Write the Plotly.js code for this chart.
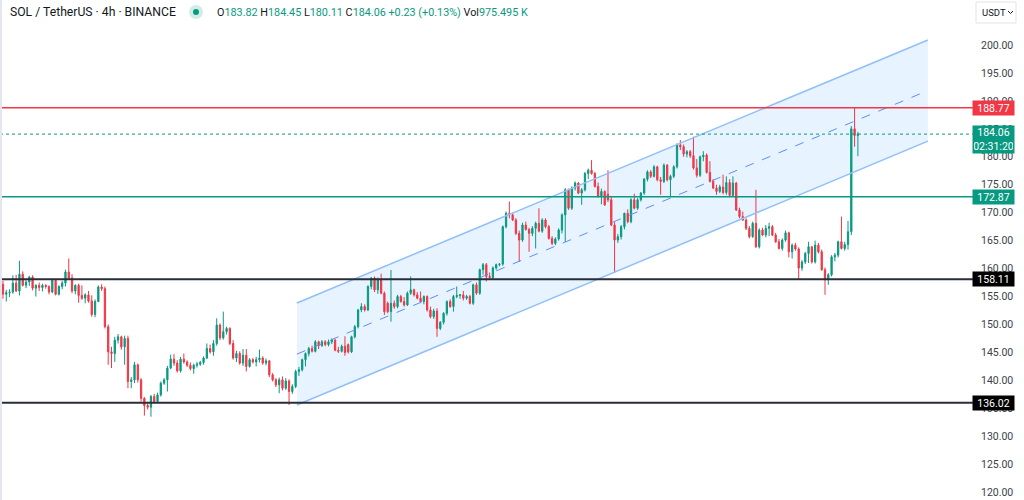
<!DOCTYPE html>
<html>
<head>
<meta charset="utf-8">
<script src="https://cdn.plot.ly/plotly-3.0.1.min.js"></script>
<style>html,body{margin:0;padding:0;background:#fff;}#chart{width:1024px;height:500px;}</style>
</head>
<body>
<div id="chart"></div>
<script>
// SOL / TetherUS 4h candles
const openP = [
157.2,155.4,155.7,155.8,157.4,156.0,159.0,157.0,157.6,158.5,
156.5,157.0,156.6,157.0,156.8,155.8,157.9,155.4,156.8,157.4,
159.4,158.3,156.0,157.0,155.2,154.7,155.3,154.2,151.8,154.1,
156.7,156.4,149.6,145.1,144.8,147.2,147.8,146.0,147.5,139.8,
140.1,142.8,140.1,136.8,135.5,135.2,137.1,136.2,137.4,139.5,
140.1,142.2,143.8,143.1,141.7,143.8,143.3,142.7,142.1,142.7,
142.9,143.2,144.0,145.7,145.1,
146.6,149.9,147.6,148.7,149.3,146.6,144.0,144.8,143.1,144.5,
142.5,143.7,143.3,143.7,144.0,143.1,143.5,141.0,140.1,139.2,
140.1,138.6,139.9,138.0,138.9,141.6,
141.9,143.7,144.8,145.7,145.2,146.9,146.2,146.9,146.4,146.9,
147.2,145.4,145.2,146.1,146.4,145.1,147.8,149.6,152.6,153.2,
152.6,156.8,158.3,156.2,158.0,155.6,153.8,152.3,153.8,153.2,
155.0,154.1,153.5,155.6,156.2,155.3,154.7,154.1,155.0,152.6,
151.4,152.4,149.3,150.4,152.0,154.1,153.2,155.0,155.2,155.3,
154.7,155.0,153.8,157.1,155.6,
159.8,160.7,158.6,158.4,160.1,160.7,160.8,167.5,169.9,169.6,
168.7,166.3,165.1,167.8,167.0,166.3,167.2,168.1,166.7,168.7,
167.5,165.4,164.5,165.3,166.9,169.6,174.1,170.8,174.4,175.3,
173.5,174.1,177.0,177.6,177.0,174.7,172.9,173.8,173.3,172.3,
167.8,165.1,165.7,167.5,169.9,168.4,172.3,170.8,172.3,
173.5,176.0,177.3,176.5,178.2,175.9,175.6,178.5,175.9,176.5,
178.2,182.1,181.8,180.5,180.9,180.2,178.0,176.7,180.0,180.3,
177.2,175.6,174.4,173.8,174.6,173.6,175.4,173.1,175.3,170.5,
169.3,168.7,167.2,165.7,168.1,163.9,166.9,166.0,167.2,167.5,
166.0,164.8,163.6,165.1,166.4,163.0,164.2,163.5,160.1,161.2,
162.7,163.9,161.2,164.2,163.0,159.8,158.0,158.9,162.1,162.4,
164.8,163.6,164.3,166.6,185.0,183.82
];
const highP = [
157.8,156.2,156.3,158.8,158.9,161.4,159.5,158.2,158.7,158.8,
157.2,157.5,157.3,157.2,157.0,158.2,158.0,157.0,157.8,159.8,
161.8,159.0,157.2,157.3,157.0,155.6,156.0,155.2,154.5,157.0,
157.2,156.8,150.0,146.0,147.8,148.3,148.0,148.0,148.0,140.6,
143.3,143.0,140.4,137.0,136.0,137.4,137.6,137.8,139.8,140.4,
142.6,144.6,144.7,143.6,144.2,144.8,143.6,143.2,143.0,143.3,
143.5,144.3,146.6,146.4,147.2,
151.1,150.2,152.3,149.6,149.5,147.2,145.3,145.2,145.6,145.6,
144.0,144.0,144.2,145.5,144.3,143.9,143.6,141.3,140.4,140.5,
140.7,140.4,140.2,139.3,141.9,142.4,
143.9,145.0,146.0,146.2,147.2,147.1,147.2,147.2,147.3,147.5,
147.4,146.0,146.4,147.9,146.6,148.0,149.9,152.8,153.8,153.6,
157.0,158.5,158.6,158.4,159.1,155.9,154.1,159.75,154.3,155.3,
155.3,154.9,155.9,158.6,156.4,155.8,155.9,155.2,155.2,153.2,
152.8,152.9,150.6,152.2,154.3,154.5,155.3,156.8,155.4,156.0,
155.3,155.3,157.3,157.5,160.0,
161.0,161.0,159.3,160.4,160.9,161.0,167.7,170.2,172.0,170.0,
169.0,166.8,168.2,168.4,167.3,167.6,168.4,170.8,169.0,169.0,
167.8,165.8,165.6,167.2,169.9,174.4,174.3,174.7,175.6,175.5,
174.4,177.3,177.9,179.4,177.3,175.4,174.3,174.0,177.6,172.8,
168.3,166.2,167.8,170.0,170.6,172.6,173.4,172.6,173.7,
176.2,177.6,177.6,178.5,178.4,176.4,178.8,178.7,176.8,178.5,
182.4,183.0,182.2,181.2,181.2,183.6,179.6,180.2,181.0,180.6,
179.2,176.0,175.0,175.0,176.8,176.5,176.0,176.5,175.5,170.9,
170.2,169.0,167.6,168.4,174.1,167.2,167.3,167.8,168.2,167.8,
166.4,165.3,165.4,166.8,166.6,164.5,164.6,163.8,161.5,163.0,
164.8,164.0,165.0,164.6,163.4,160.2,159.2,162.4,162.8,165.0,
169.3,164.8,168.5,185.5,188.77,184.45
];
const lowP = [
154.6,154.1,154.9,155.5,155.8,155.2,156.8,156.5,156.9,156.1,
155.0,156.0,155.9,156.4,155.4,155.6,155.2,155.2,156.3,156.8,
158.0,155.6,155.4,153.9,154.4,153.8,153.9,151.4,151.3,154.0,
156.0,149.3,142.8,142.2,143.3,146.6,145.5,142.8,138.6,138.6,
139.5,139.6,136.2,133.7,134.8,133.5,135.9,136.0,137.1,139.2,
138.0,142.0,142.6,141.4,141.4,143.0,142.4,141.8,141.2,142.3,
142.6,142.8,143.8,144.8,144.4,
146.2,147.2,147.3,148.2,146.3,143.7,143.3,142.8,142.6,141.6,
142.3,143.0,142.5,143.2,142.8,142.7,140.6,139.8,138.8,137.7,
138.2,138.3,135.6,137.6,138.6,140.8,
141.6,142.5,144.3,145.0,145.0,145.6,146.0,146.1,146.1,146.5,
145.2,144.9,145.0,144.4,144.8,144.9,147.5,149.3,152.2,152.3,
152.4,156.3,155.8,155.5,155.4,151.7,152.0,150.5,152.8,152.9,
153.9,153.2,153.3,155.3,155.0,154.5,153.8,153.6,152.3,151.1,
151.0,147.8,149.0,150.0,151.6,153.0,152.3,154.7,154.6,154.3,
154.4,153.6,153.5,155.3,155.3,
158.9,157.7,158.2,158.0,159.8,160.4,160.5,167.2,169.0,168.5,
166.0,161.2,164.8,166.8,163.0,165.8,163.6,166.5,166.4,167.2,
165.2,164.2,164.2,165.0,166.3,164.8,170.5,170.5,174.0,173.3,
171.4,173.8,176.0,176.8,174.5,172.7,171.5,171.2,171.9,167.6,
159.2,164.6,165.2,167.0,168.1,168.1,170.6,170.5,172.0,
173.2,175.6,176.2,176.3,175.6,173.2,175.3,175.6,172.9,176.2,
177.9,181.2,180.0,179.9,179.8,177.7,176.3,176.4,179.2,177.0,
175.4,174.2,173.2,173.5,173.3,173.2,172.8,172.9,170.3,169.0,
168.5,166.9,165.4,165.5,163.7,163.6,165.8,165.6,165.8,165.8,
164.6,163.4,163.2,164.8,162.0,161.8,163.2,158.0,159.6,160.8,
161.0,160.9,160.9,162.7,159.6,155.3,157.1,158.6,161.3,162.0,
163.4,163.2,163.4,166.0,181.8,180.11
];
const closeP = [
155.4,155.7,155.8,157.4,156.0,159.0,157.0,157.6,158.5,156.5,
157.0,156.6,157.0,156.8,155.8,157.9,155.4,156.8,157.4,159.4,
158.3,156.0,157.0,155.2,154.7,155.3,154.2,151.8,154.1,156.7,
156.4,149.6,145.1,144.8,147.2,147.8,146.0,147.5,139.8,140.1,
142.8,140.1,136.8,135.5,135.2,137.1,136.2,137.4,139.5,140.1,
142.2,143.8,143.1,141.7,143.8,143.3,142.7,142.1,142.7,142.9,
143.2,144.0,145.7,145.1,146.6,
149.9,147.6,148.7,149.3,146.6,144.0,144.8,143.1,144.5,142.5,
143.7,143.3,143.7,144.0,143.1,143.5,141.0,140.1,139.2,140.1,
138.6,139.9,138.0,138.9,141.6,141.9,
143.7,144.8,145.7,145.2,146.9,146.2,146.9,146.4,146.9,147.2,
145.4,145.2,146.1,145.0,145.1,147.8,149.6,152.6,153.2,152.6,
156.8,158.3,156.2,158.0,155.6,152.3,152.3,153.8,153.2,155.0,
154.1,153.5,155.6,156.2,155.3,154.7,154.1,155.0,152.6,151.4,
152.4,149.3,150.4,152.0,154.1,153.2,155.0,155.2,155.3,154.7,
155.0,153.8,157.1,155.6,159.8,
160.7,158.6,158.4,160.1,160.7,160.8,167.5,169.9,169.6,168.7,
166.3,165.1,167.8,167.0,166.3,167.2,168.1,166.7,168.7,167.5,
165.4,164.5,165.3,166.9,169.6,174.1,170.8,174.4,175.3,173.5,
174.1,177.0,177.6,177.0,174.7,172.9,173.8,171.4,172.3,167.8,
165.1,165.7,167.5,169.9,168.4,172.3,170.8,172.3,173.5,
176.0,177.3,176.5,178.2,175.9,175.6,178.5,175.9,176.5,178.2,
182.1,181.8,180.5,180.9,180.2,178.0,176.7,180.0,180.3,177.2,
175.6,174.4,173.8,174.6,173.6,175.4,173.1,175.3,170.5,169.3,
168.7,167.2,165.7,168.1,163.9,166.9,166.0,167.2,167.5,166.0,
164.8,163.6,165.1,166.4,163.0,164.2,163.5,160.1,161.2,162.7,
163.9,161.2,164.2,163.0,159.8,158.0,158.9,162.1,162.4,164.8,
163.6,164.3,166.6,185.0,183.82,184.06
];
const candleIdx = closeP.map((_, i) => i);

// price axis ticks
const priceTicks = [120,125,130,135,140,145,150,155,160,165,170,175,180,185,190,195,200];
const priceTickText = priceTicks.map(v => v.toFixed(2));

// horizontal levels
const levelHigh = 188.77;      // red
const levelGreen = 172.87;     // teal
const levelSupport1 = 158.11;  // black
const levelSupport2 = 136.02;  // black
const lastPrice = 184.06;
const countdown = '02:31:20';

// channel drawing anchors (candle index, price)
const channelIdx = [89.4, 281.3];
const channelUpper = [153.85, 200.9];
const channelMid = [144.7, 191.85];
const channelLower = [135.6, 182.8];

const UP = '#089981', DOWN = '#F23645';
const W = 970, H = 500;
const px = v => v / W;
const py = v => 1 - v / H;
const FONT = 'Roboto, "Noto Sans", "DejaVu Sans", sans-serif';

const trace = {
  type: 'candlestick',
  x: candleIdx, open: openP, high: highP, low: lowP, close: closeP,
  increasing: {line: {color: UP, width: 1}, fillcolor: UP},
  decreasing: {line: {color: DOWN, width: 1}, fillcolor: DOWN},
  whiskerwidth: 0,
  hoverinfo: 'skip',
  showlegend: false
};

const shapes = [
  // channel fill
  {type: 'path', xref: 'x', yref: 'y', layer: 'below',
   path: `M ${channelIdx[0]},${channelUpper[0]} L ${channelIdx[1]},${channelUpper[1]} L ${channelIdx[1]},${channelLower[1]} L ${channelIdx[0]},${channelLower[0]} Z`,
   fillcolor: 'rgba(33,150,243,0.11)', line: {width: 0}},
  {type: 'line', xref: 'x', yref: 'y', x0: channelIdx[0], x1: channelIdx[1], y0: channelUpper[0], y1: channelUpper[1], line: {color: '#90BFF9', width: 1.5}},
  {type: 'line', xref: 'x', yref: 'y', x0: channelIdx[0], x1: channelIdx[1], y0: channelLower[0], y1: channelLower[1], line: {color: '#90BFF9', width: 1.5}},
  {type: 'line', xref: 'x', yref: 'y', x0: channelIdx[0], x1: channelIdx[1], y0: channelMid[0], y1: channelMid[1], line: {color: '#5E8EF2', width: 1, dash: 'dash'}},
  // levels
  {type: 'line', xref: 'paper', yref: 'y', x0: 0, x1: 1.003, y0: levelHigh, y1: levelHigh, line: {color: DOWN, width: 1.3}},
  {type: 'line', xref: 'paper', yref: 'y', x0: 0, x1: 1.003, y0: lastPrice, y1: lastPrice, line: {color: UP, width: 1, dash: 'dot'}},
  {type: 'line', xref: 'paper', yref: 'y', x0: 0, x1: 1.003, y0: levelGreen, y1: levelGreen, line: {color: UP, width: 1.5}},
  {type: 'line', xref: 'paper', yref: 'y', x0: 0, x1: 1.003, y0: levelSupport1, y1: levelSupport1, line: {color: '#2A2E39', width: 2}},
  {type: 'line', xref: 'paper', yref: 'y', x0: 0, x1: 1.003, y0: levelSupport2, y1: levelSupport2, line: {color: '#2A2E39', width: 2}},
  // left border
  {type: 'line', xref: 'paper', yref: 'paper', x0: px(1), x1: px(1), y0: 0, y1: 1, line: {color: '#E4E7EE', width: 2}},
  // status dot
  {type: 'circle', xref: 'paper', yref: 'paper', x0: px(189), x1: px(203), y0: py(19), y1: py(5), fillcolor: 'rgba(8,153,129,0.18)', line: {width: 0}},
  {type: 'circle', xref: 'paper', yref: 'paper', x0: px(193), x1: px(199), y0: py(15), y1: py(9), fillcolor: UP, line: {width: 0}},
  // USDT button
  {type: 'rect', xref: 'paper', yref: 'paper', x0: px(976), x1: px(1016), y0: py(23), y1: py(2), fillcolor: '#fff', line: {color: '#E0E3EB', width: 1}},
  {type: 'path', xref: 'paper', yref: 'paper', path: `M ${px(1008)},${py(11)} L ${px(1010.5)},${py(13.5)} L ${px(1013)},${py(11)}`, line: {color: '#131722', width: 1}}
];

const boxFont = {family: FONT, size: 10.5, color: '#fff'};
function priceBox(val, bg, text, extra) {
  return Object.assign({
    xref: 'paper', yref: 'y', x: 1, xanchor: 'left', xshift: 2,
    y: val, yanchor: 'middle', text: text || val.toFixed(2),
    showarrow: false, bgcolor: bg, font: boxFont,
    width: 39, height: 12, borderpad: 1, align: 'center'
  }, extra || {});
}

const ohlc = `<span style="color:#131722">O</span>183.82 <span style="color:#131722">H</span>184.45 <span style="color:#131722">L</span>180.11 <span style="color:#131722">C</span>184.06 +0.23 (+0.13%) <span style="color:#131722">Vol</span>975.495 K`;

const annotations = [
  priceBox(levelHigh, DOWN),
  priceBox(lastPrice, UP, lastPrice.toFixed(2) + '<br>' + countdown, {yanchor: 'top', yshift: 9, height: 25}),
  priceBox(levelGreen, UP),
  priceBox(levelSupport1, '#000000'),
  priceBox(levelSupport2, '#000000'),
  {xref: 'paper', yref: 'paper', x: px(8), y: py(12), xanchor: 'left', yanchor: 'middle',
   text: 'SOL / TetherUS · 4h · BINANCE', showarrow: false,
   font: {family: FONT, size: 12.2, color: '#131722'}},
  {xref: 'paper', yref: 'paper', x: px(215), y: py(12), xanchor: 'left', yanchor: 'middle',
   text: ohlc, showarrow: false,
   font: {family: FONT, size: 10.8, color: UP}},
  {xref: 'paper', yref: 'paper', x: px(980), y: py(12.5), xanchor: 'left', yanchor: 'middle',
   text: 'USDT', showarrow: false,
   font: {family: FONT, size: 9.5, color: '#131722'}}
];

const layout = {
  width: 1024, height: 500,
  margin: {l: 0, r: 54, t: 0, b: 0},
  paper_bgcolor: '#fff', plot_bgcolor: '#fff',
  font: {family: FONT},
  showlegend: false,
  hovermode: false,
  boxgap: 0.45,
  xaxis: {range: [-0.91, 294.1], visible: false, rangeslider: {visible: false}, fixedrange: true},
  yaxis: {range: [118.6, 208.05], side: 'right', showgrid: false, zeroline: false, showline: false,
          tickmode: 'array', tickvals: priceTicks, ticktext: priceTickText, ticks: '',
          ticklabelstandoff: 10, tickfont: {family: FONT, size: 10.5, color: '#3B3F4A'}, fixedrange: true},
  shapes: shapes,
  annotations: annotations
};

Plotly.newPlot('chart', [trace], layout, {displayModeBar: false, staticPlot: true});
</script>
</body>
</html>
